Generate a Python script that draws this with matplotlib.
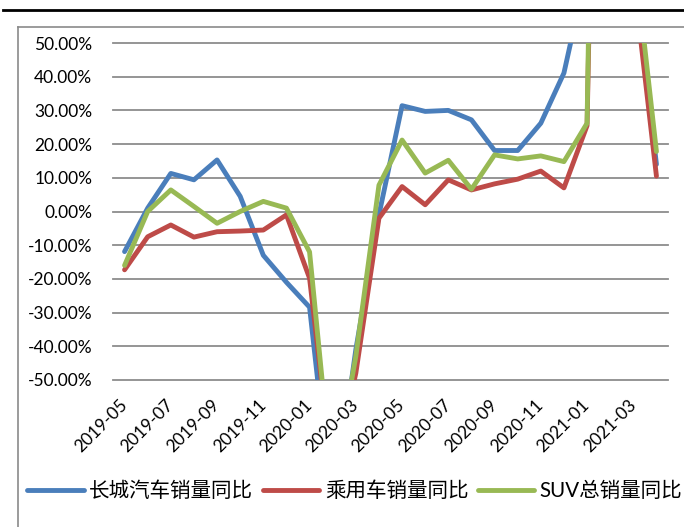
import matplotlib
matplotlib.use("Agg")
import matplotlib.pyplot as plt
from matplotlib.lines import Line2D

# month categories, 2019-05 .. 2021-04
months = ["2019-05", "2019-06", "2019-07", "2019-08", "2019-09", "2019-10",
          "2019-11", "2019-12", "2020-01", "2020-02", "2020-03", "2020-04",
          "2020-05", "2020-06", "2020-07", "2020-08", "2020-09", "2020-10",
          "2020-11", "2020-12", "2021-01", "2021-02", "2021-03", "2021-04"]

# yoy growth, % (values outside ±50 are clipped by the axis, estimated)
gwm_yoy = [-11.9, 1.0, 11.3, 9.4, 15.3, 4.5, -13.0, -21.0, -28.4, -90.0, -41.0, -1.0,
           31.4, 29.7, 30.0, 27.2, 18.1, 18.1, 26.2, 41.1, 72.0, 500.0, 74.0, 14.0]
pv_yoy = [-17.3, -7.5, -4.0, -7.6, -6.0, -5.8, -5.5, -1.0, -19.8, -79.0, -48.0, -2.0,
          7.4, 2.0, 9.4, 6.4, 8.2, 9.6, 12.0, 7.0, 25.5, 370.0, 70.0, 10.5]
suv_yoy = [-16.0, 0.0, 6.4, 1.5, -3.5, 0.0, 3.0, 1.0, -12.0, -82.0, -43.0, 7.8,
           21.2, 11.4, 15.2, 6.6, 16.8, 15.6, 16.5, 14.8, 26.2, 450.0, 79.0, 17.8]

labels = ["长城汽车销量同比", "乘用车销量同比", "SUV总销量同比"]
colors = ["#4A7EBB", "#BE4B48", "#98B954"]
yticks = [-50, -40, -30, -20, -10, 0, 10, 20, 30, 40, 50]

plt.rcParams["font.family"] = ["Lato", "Noto Sans CJK SC"]
plt.rcParams["axes.unicode_minus"] = False

W, H = 684, 527
fig = plt.figure(figsize=(W / 100, H / 100), dpi=100)

# decorations: black rule on top, grey chart-area frame (cut off right/bottom)
fig.add_artist(Line2D([3 / W, 1], [1 - 10 / H] * 2, color="black", lw=2.0))
fig.add_artist(Line2D([18 / W, 1], [1 - 27 / H] * 2, color="#8a8a8a", lw=1.2))
fig.add_artist(Line2D([18 / W] * 2, [1 - 27 / H, 0], color="#8a8a8a", lw=1.2))

ax = fig.add_axes([113 / W, 1 - 380 / H, (668 - 113) / W, (380 - 43) / H])
x = list(range(len(months)))
for ys, c, lab in zip([gwm_yoy, pv_yoy, suv_yoy], colors, labels):
    ax.plot(x, ys, color=c, lw=3.5, label=lab,
            solid_joinstyle="round", solid_capstyle="round")

ax.set_xlim(-0.5, len(months) - 0.5)
ax.set_ylim(-50, 50)
ax.set_yticks(yticks)
ax.set_yticklabels([f"{v:.2f}%" for v in yticks], fontsize=12.5)
ax.set_xticks(x[::2])
ax.set_xticklabels(months[::2], rotation=45, ha="right", va="center",
                   rotation_mode="anchor", fontsize=12.5)
ax.tick_params(axis="both", length=0)
ax.tick_params(axis="y", pad=15)
ax.tick_params(axis="x", pad=16)
for s in ax.spines.values():
    s.set_visible(False)
ax.yaxis.grid(True, color="#8c8c8c", lw=1.3)
ax.set_axisbelow(True)
for gl in ax.get_ygridlines():
    gl.set_clip_on(False)

fig.legend(loc="center left", bbox_to_anchor=(27 / W, 1 - 491 / H), ncol=3,
           frameon=False, fontsize=14.8, handlelength=2.75, handletextpad=0.28,
           columnspacing=0.45, borderpad=0, borderaxespad=0)

fig.savefig("out.png", dpi=100)
